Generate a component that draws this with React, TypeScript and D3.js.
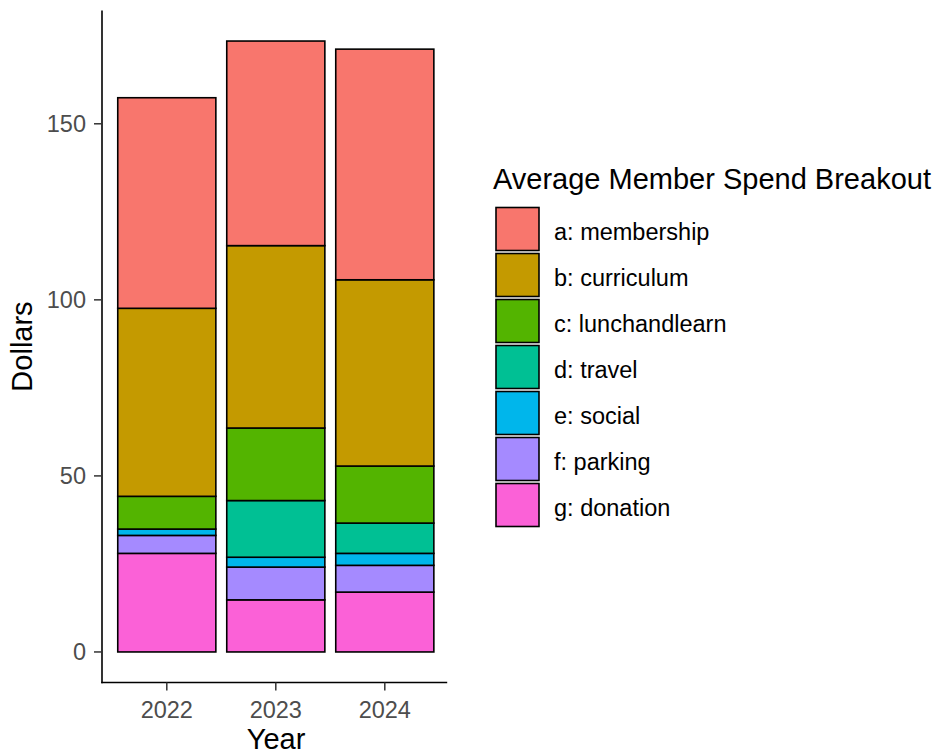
import React from "react";
import * as d3 from "d3";

const years = ["2022", "2023", "2024"];
const membership = [59.8, 58.1, 65.5];
const curriculum = [53.4, 51.8, 52.9];
const lunchandlearn = [9.3, 20.6, 16.2];
const travel = [0, 16.1, 8.6];
const social = [1.8, 2.8, 3.4];
const parking = [5.1, 9.3, 7.6];
const donation = [28.0, 14.8, 17.0];
const yTicks = [0, 50, 100, 150];

const legendLabels = [
  "a: membership",
  "b: curriculum",
  "c: lunchandlearn",
  "d: travel",
  "e: social",
  "f: parking",
  "g: donation",
];
const colors = ["#F8766D", "#C49A00", "#53B400", "#00C094", "#00B6EB", "#A58AFF", "#FB61D7"];

const seriesTopDown = [membership, curriculum, lunchandlearn, travel, social, parking, donation];

export default function App() {
  const W = 938, H = 756;
  const left = 102, right = 450.2, top = 10.5, bottom = 682.5;
  const font = "'Liberation Sans', Arial, sans-serif";

  const rows = years.map((y, i) => {
    const r: any = { year: y };
    legendLabels.forEach((k, j) => (r[k] = seriesTopDown[j][i]));
    return r;
  });
  const keysBottomUp = [...legendLabels].reverse();
  const stacked = d3.stack<any>().keys(keysBottomUp)(rows);
  const totals = rows.map((r) => legendLabels.reduce((s, k) => s + r[k], 0));
  const maxT = d3.max(totals) as number;
  const ex = maxT * 0.05;

  const y = d3.scaleLinear().domain([-ex, maxT + ex]).range([bottom, top]);
  const x = d3.scaleBand().domain(years).range([101.4, right]).paddingInner(0.1).paddingOuter(0.15);

  const colorOf = (k: string) => colors[legendLabels.indexOf(k)];

  return (
    <svg width={W} height={H} style={{ position: "absolute", left: 0, top: 0, background: "#fff" }} fontFamily={font}>
      <rect width={W} height={H} fill="#fff" />
      {stacked.map((s) => (
        <g key={s.key}>
          {s.map((d, i) =>
            d[1] - d[0] > 0 ? (
              <rect
                key={i}
                x={x(years[i])}
                width={x.bandwidth()}
                y={y(d[1])}
                height={y(d[0]) - y(d[1])}
                fill={colorOf(s.key)}
                stroke="#000"
                strokeWidth={1.6}
              />
            ) : null
          )}
        </g>
      ))}
      {/* axes */}
      <line x1={left} x2={left} y1={top} y2={bottom + 0.8} stroke="#000" strokeWidth={1.6} />
      <line x1={left - 0.8} x2={right - 3} y1={bottom} y2={bottom} stroke="#000" strokeWidth={1.6} />
      {yTicks.map((t) => (
        <g key={t}>
          <line x1={left - 8} x2={left} y1={y(t)} y2={y(t)} stroke="#333" strokeWidth={1.5} />
          <text x={86} y={y(t)} dy="0.36em" textAnchor="end" fontSize={23.5} fill="#4D4D4D">
            {t}
          </text>
        </g>
      ))}
      {years.map((yr) => {
        const cx = (x(yr) as number) + x.bandwidth() / 2;
        return (
          <g key={yr}>
            <line x1={cx} x2={cx} y1={bottom} y2={bottom + 8} stroke="#333" strokeWidth={1.5} />
            <text x={cx} y={718} textAnchor="middle" fontSize={23.5} fill="#4D4D4D">
              {yr}
            </text>
          </g>
        );
      })}
      <text x={(left + right) / 2} y={749} textAnchor="middle" fontSize={29} fill="#000">
        Year
      </text>
      <text
        transform={`translate(32,${(top + bottom) / 2}) rotate(-90)`}
        textAnchor="middle"
        fontSize={29}
        fill="#000"
      >
        Dollars
      </text>
      {/* legend */}
      <text x={493} y={189} fontSize={29} fill="#000">
        Average Member Spend Breakout
      </text>
      {legendLabels.map((l, i) => {
        const ky = 207.5 + i * 46;
        return (
          <g key={l}>
            <rect x={496} y={ky} width={43} height={43} fill={colors[i]} stroke="#000" strokeWidth={1.6} />
            <text x={554} y={ky + 24} dy="0.36em" fontSize={23.5} fill="#000">
              {l}
            </text>
          </g>
        );
      })}
    </svg>
  );
}
